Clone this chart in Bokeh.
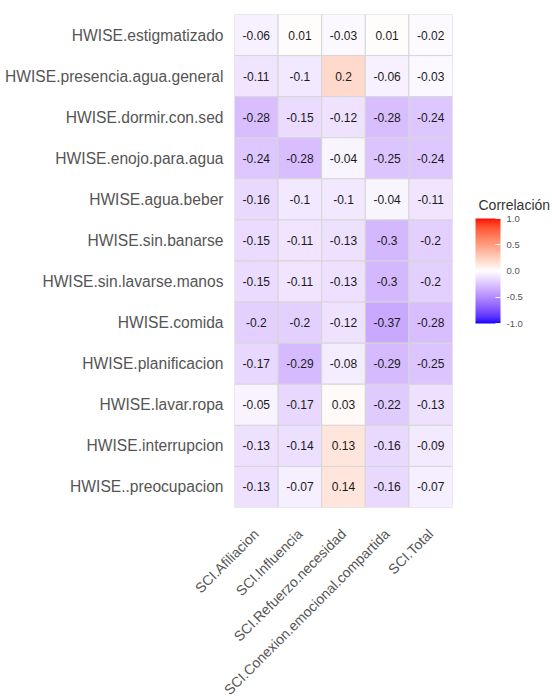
import numpy as np
from bokeh.plotting import figure
from bokeh.models import (ColumnDataSource, FactorRange, LinearColorMapper, ColorBar,
                          FixedTicker, PrintfTickFormatter, AllLabels)
from bokeh.core.properties import value
from bokeh.embed import file_html
from bokeh.resources import INLINE

rows = ["HWISE.estigmatizado", "HWISE.presencia.agua.general", "HWISE.dormir.con.sed",
        "HWISE.enojo.para.agua", "HWISE.agua.beber", "HWISE.sin.banarse",
        "HWISE.sin.lavarse.manos", "HWISE.comida", "HWISE.planificacion",
        "HWISE.lavar.ropa", "HWISE.interrupcion", "HWISE..preocupacion"]
cols = ["SCI.Afiliacion", "SCI.Influencia", "SCI.Refuerzo.necesidad",
        "SCI.Conexion.emocional.compartida", "SCI.Total"]

afiliacion = [-0.06, -0.11, -0.28, -0.24, -0.16, -0.15, -0.15, -0.2, -0.17, -0.05, -0.13, -0.13]
influencia = [0.01, -0.1, -0.15, -0.28, -0.1, -0.11, -0.11, -0.2, -0.29, -0.17, -0.14, -0.07]
refuerzo = [-0.03, 0.2, -0.12, -0.04, -0.1, -0.13, -0.13, -0.12, -0.08, 0.03, 0.13, 0.14]
conexion = [0.01, -0.06, -0.28, -0.25, -0.04, -0.3, -0.3, -0.37, -0.29, -0.22, -0.16, -0.16]
total = [-0.02, -0.03, -0.24, -0.24, -0.11, -0.2, -0.2, -0.28, -0.25, -0.13, -0.09, -0.07]

legend_ticks = [-1.0, -0.5, 0.0, 0.5, 1.0]
legend_title = "Correlación"

# ---- Lab interpolation (like ggplot2 scale_fill_gradient2: blue - white - red)
def _to_lin(c):
    c = c / 255.0
    return np.where(c <= 0.04045, c / 12.92, ((c + 0.055) / 1.055) ** 2.4)

def _from_lin(c):
    c = np.where(c <= 0.0031308, 12.92 * c, 1.055 * np.power(np.clip(c, 0, None), 1 / 2.4) - 0.055)
    return np.clip(np.round(c * 255), 0, 255).astype(int)

M = np.array([[0.4124, 0.3576, 0.1805], [0.2126, 0.7152, 0.0722], [0.0193, 0.1192, 0.9505]])
Minv = np.linalg.inv(M)
WHITE = M @ np.array([1.0, 1.0, 1.0])

def _f(t):
    d = 6 / 29
    return np.where(t > d ** 3, np.cbrt(t), t / (3 * d * d) + 4 / 29)

def _finv(t):
    d = 6 / 29
    return np.where(t > d, t ** 3, 3 * d * d * (t - 4 / 29))

def rgb_to_lab(rgb):
    xyz = M @ _to_lin(np.array(rgb, dtype=float)) / WHITE
    fx, fy, fz = _f(xyz)
    return np.array([116 * fy - 16, 500 * (fx - fy), 200 * (fy - fz)])

def lab_to_hex(lab):
    L, a, b = lab
    fy = (L + 16) / 116
    fx = fy + a / 500
    fz = fy - b / 200
    xyz = np.array([_finv(fx), _finv(fy), _finv(fz)]) * WHITE
    rgb = _from_lin(Minv @ xyz)
    return "#%02x%02x%02x" % tuple(rgb)

lab_low = rgb_to_lab([0, 0, 255])
lab_mid = rgb_to_lab([255, 255, 255])
lab_high = rgb_to_lab([255, 0, 0])

palette = []
for v in np.linspace(-1, 1, 256):
    if v < 0:
        lab = lab_mid + (lab_low - lab_mid) * (-v)
    else:
        lab = lab_mid + (lab_high - lab_mid) * v
    palette.append(lab_to_hex(lab))

mapper = LinearColorMapper(palette=palette, low=-1, high=1)

series = [afiliacion, influencia, refuerzo, conexion, total]
xs, ys, vals, labels = [], [], [], []
for c, s in zip(cols, series):
    for r, v in zip(rows, s):
        xs.append(c)
        ys.append(r)
        vals.append(v)
        labels.append(str(round(v, 2)))
source = ColumnDataSource(dict(x=xs, y=ys, v=vals, label=labels))

FONT = "Liberation Sans"

p = figure(frame_width=218, frame_height=493, output_backend="svg", toolbar_location=None,
           x_range=FactorRange(*cols), y_range=FactorRange(*reversed(rows)),
           min_border_left=234, min_border_right=100, min_border_top=14, min_border_bottom=190)

p.rect(x="x", y="y", width=1, height=1, source=source,
       fill_color={"field": "v", "transform": mapper}, line_color="#d6d6d6", line_width=1)
p.text(x="x", y="y", text="label", source=source, text_align="center", text_baseline="middle",
       text_font=value(FONT), text_font_size="12px", text_color="#1a1a1a")

p.outline_line_color = None
p.grid.visible = False
for ax in (p.xaxis[0], p.yaxis[0]):
    ax.axis_line_color = None
    ax.major_tick_line_color = None
    ax.minor_tick_line_color = None
    ax.major_tick_out = 0
    ax.major_tick_in = 0
    ax.major_label_text_font = FONT
    ax.major_label_text_color = "#555555"
p.yaxis.major_label_text_font_size = "15.6px"
p.xaxis.major_label_text_font_size = "14px"
p.yaxis.major_label_standoff = 11
p.xaxis.major_label_standoff = 24
p.xaxis.major_label_orientation = np.pi / 4

cb = ColorBar(color_mapper=mapper, ticker=FixedTicker(ticks=legend_ticks),
              formatter=PrintfTickFormatter(format="%.1f"),
              major_label_policy=AllLabels(),
              width=25, height=105, padding=0, margin=0,
              major_label_text_font=FONT, major_label_text_font_size="9.5px",
              major_label_text_color="#555555", major_tick_line_color="white",
              major_tick_in=5, major_tick_out=0, bar_line_color=None, label_standoff=6,
              background_fill_alpha=0, border_line_color=None,
              location=(241, 184))
p.add_layout(cb, "center")

# legend title, drawn as the (horizontal) title of an invisible colour bar
title_bar = ColorBar(color_mapper=mapper, orientation="horizontal", ticker=FixedTicker(ticks=[]),
                     width=80, height=1, padding=0, margin=0, scale_alpha=0,
                     title=legend_title, title_text_font=FONT, title_text_font_size="14px",
                     title_text_font_style="normal", title_text_color="#333333", title_standoff=0,
                     major_label_text_font_size="1px", major_tick_line_color=None,
                     bar_line_color=None, background_fill_alpha=0, border_line_color=None,
                     label_standoff=0, location=(244, 294))
p.add_layout(title_bar, "center")

open("out.html", "w").write(file_html(p, INLINE))
